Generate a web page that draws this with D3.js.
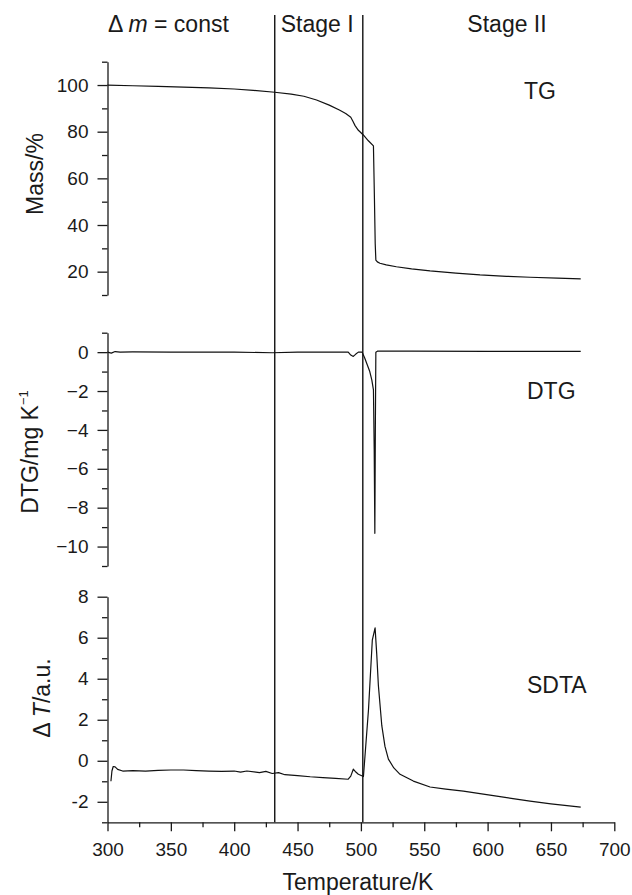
<!DOCTYPE html>
<html>
<head>
<meta charset="utf-8">
<script src="https://cdn.jsdelivr.net/npm/d3@7"></script>
<style>
  body { margin: 0; background: #fff; }
  svg { font-family: "Liberation Sans", Arial, sans-serif; }
  .axis path, .axis line { stroke: #1a1a1a; stroke-width: 1.3; }
  .axis text { font-size: 19px; fill: #1a1a1a; font-family: "Liberation Sans", Arial, sans-serif; }
  .title { font-size: 23px; fill: #1a1a1a; }
</style>
</head>
<body>
<div id="chart"></div>
<script>
// data (temperature in K)
const tgT    = [300, 320, 340, 360, 380, 400, 415, 432, 445, 455, 465, 475, 483, 488, 492, 493.6, 495.4, 498, 501.9, 505.9, 509.9, 510.7, 511.3, 511.8, 513, 515, 520, 528, 540, 554.6, 575, 594, 615, 633.5, 655, 673.5];
const tgMass = [100, 99.7, 99.4, 99.1, 98.8, 98.3, 97.7, 96.9, 96.1, 95.2, 93.6, 91.4, 89.3, 87.8, 86.2, 84.6, 82.6, 80.6, 78.6, 76.1, 73.9, 50.7, 32, 25.0, 24.2, 23.6, 22.9, 22.1, 21.2, 20.3, 19.4, 18.6, 18.0, 17.6, 17.2, 16.9];

const dtgT   = [300, 303, 306, 310, 320, 350, 400, 430, 450, 480, 490, 492, 494, 496, 498, 501, 503, 505, 507, 508.6, 509.9, 510.5, 511, 511.4, 511.8, 513, 540, 600, 673.5];
const dtgVal = [0, -0.05, 0.03, 0, 0.01, 0, 0, -0.03, 0, 0, 0, -0.15, -0.22, -0.1, 0, 0, -0.3, -0.65, -1.0, -1.43, -1.94, -5.0, -9.32, -4.0, 0, 0.05, 0.05, 0.04, 0.04];

const sdtaT   = [302.7, 303.5, 304.5, 306, 308, 312, 320, 330, 340, 350, 360, 370, 380, 390, 400, 405, 410, 420, 425, 430, 435, 440, 450, 460, 470, 480, 490, 492, 494, 496, 498, 502, 506, 509, 511.2, 512.5, 513.8, 516.5, 519, 521.7, 526, 530.9, 541.4, 554.6, 567, 580.9, 594, 607.2, 620, 633.5, 650, 673.5];
const sdtaVal = [-1.0, -0.5, -0.28, -0.3, -0.42, -0.5, -0.48, -0.5, -0.47, -0.45, -0.45, -0.48, -0.5, -0.52, -0.5, -0.55, -0.5, -0.58, -0.52, -0.62, -0.58, -0.68, -0.72, -0.78, -0.82, -0.86, -0.9, -0.75, -0.41, -0.55, -0.66, -0.77, 2.5, 5.88, 6.48, 5.2, 3.67, 1.71, 0.7, 0.08, -0.35, -0.66, -0.99, -1.28, -1.38, -1.48, -1.6, -1.72, -1.85, -1.97, -2.1, -2.26];

// stage boundaries (K)
const stageLines = [432, 501.5];

// ticks
const xMajor = [300, 350, 400, 450, 500, 550, 600, 650, 700];
const xMinor = [325, 375, 425, 475, 525, 575, 625, 675];
const tgMajor = [100, 80, 60, 40, 20];
const tgMinor = [110, 90, 70, 50, 30, 10];
const dtgMajor = [0, -2, -4, -6, -8, -10];
const dtgMinor = [1, -1, -3, -5, -7, -9, -11];
const sdtaMajor = [8, 6, 4, 2, 0, -2];
const sdtaMinor = [7, 5, 3, 1, -1, -3];

const W = 632, H = 895;
const svg = d3.select("#chart").append("svg")
    .attr("width", W)
    .attr("height", H);

const x = d3.scaleLinear().domain([300, 700]).range([107.5, 614.3]);

// three stacked panels sharing x
const panels = [
    { key: "tg",   T: tgT,   V: tgMass,  domain: [10, 110], range: [295, 61.7],  major: tgMajor,   minor: tgMinor,   fmt: d => d },
    { key: "dtg",  T: dtgT,  V: dtgVal,  domain: [-11, 1],  range: [566, 332.7], major: dtgMajor,  minor: dtgMinor,  fmt: d => d < 0 ? "\u2212" + (-d) : d },
    { key: "sdta", T: sdtaT, V: sdtaVal, domain: [-3, 8],   range: [822.3, 596.7], major: sdtaMajor, minor: sdtaMinor, fmt: d => d < 0 ? "-" + (-d) : d }
];

panels.forEach(p => {
    const y = d3.scaleLinear().domain(p.domain).range(p.range);

    // minor ticks (also closes both ends)
    svg.append("g")
        .attr("class", "axis")
        .attr("transform", `translate(${x(300)},0)`)
        .call(d3.axisLeft(y).tickValues(p.minor).tickSize(5.5).tickSizeOuter(0).tickFormat(""));

    svg.append("g")
        .attr("class", "axis")
        .attr("transform", `translate(${x(300)},0)`)
        .call(d3.axisLeft(y).tickValues(p.major).tickSize(10).tickSizeOuter(0).tickPadding(9).tickFormat(p.fmt))
        .select(".domain").remove();

    const line = d3.line()
        .x((d, i) => x(p.T[i]))
        .y(d => y(d));

    svg.append("path")
        .datum(p.V)
        .attr("d", line)
        .attr("fill", "none")
        .attr("stroke", "#111")
        .attr("stroke-width", 1.2)
        .attr("stroke-linejoin", "round");
});

// bottom axis
const yBottom = 822.3;
svg.append("g")
    .attr("class", "axis")
    .attr("transform", `translate(0,${yBottom})`)
    .call(d3.axisBottom(x).tickValues(xMinor).tickSize(5).tickSizeOuter(0).tickFormat(""));

svg.append("g")
    .attr("class", "axis")
    .attr("transform", `translate(0,${yBottom})`)
    .call(d3.axisBottom(x).tickValues(xMajor).tickSize(9).tickSizeOuter(0).tickPadding(11))
    .select(".domain").remove();

// stage lines
svg.selectAll(".stage")
    .data(stageLines)
    .enter()
    .append("line")
    .attr("x1", d => x(d))
    .attr("x2", d => x(d))
    .attr("y1", 15)
    .attr("y2", yBottom)
    .attr("stroke", "#111")
    .attr("stroke-width", 1.4);

// header labels
const h1 = svg.append("text").attr("class", "title").attr("x", 108).attr("y", 31.5);
h1.append("tspan").text("\u0394 ");
h1.append("tspan").attr("font-style", "italic").text("m");
h1.append("tspan").text(" = const");

svg.append("text").attr("class", "title")
    .attr("x", x(stageLines[0]) + 6).attr("y", 31.5)
    .text("Stage I");

svg.append("text").attr("class", "title")
    .attr("x", 507).attr("y", 31.5)
    .attr("text-anchor", "middle")
    .text("Stage II");

// curve names
svg.append("text").attr("class", "title").attr("x", 524).attr("y", 98.5).text("TG");
svg.append("text").attr("class", "title").attr("x", 527).attr("y", 398.5).text("DTG");
svg.append("text").attr("class", "title").attr("x", 527).attr("y", 692.5).text("SDTA");

// y axis titles
svg.append("text").attr("class", "title")
    .attr("transform", "translate(43,174) rotate(-90)")
    .attr("text-anchor", "middle")
    .text("Mass/%");

const dtgLab = svg.append("text").attr("class", "title")
    .attr("transform", "translate(38,452) rotate(-90)")
    .attr("text-anchor", "middle");
dtgLab.append("tspan").text("DTG/mg K");
dtgLab.append("tspan").attr("font-size", "13px").attr("dy", -10).text("\u22121");

const dtLab = svg.append("text").attr("class", "title")
    .attr("transform", "translate(50,698) rotate(-90)")
    .attr("text-anchor", "middle");
dtLab.append("tspan").text("\u0394 ");
dtLab.append("tspan").attr("font-style", "italic").text("T");
dtLab.append("tspan").text("/a.u.");

// x title
svg.append("text").attr("class", "title")
    .attr("x", 358).attr("y", 890)
    .attr("text-anchor", "middle")
    .text("Temperature/K");
</script>
</body>
</html>
